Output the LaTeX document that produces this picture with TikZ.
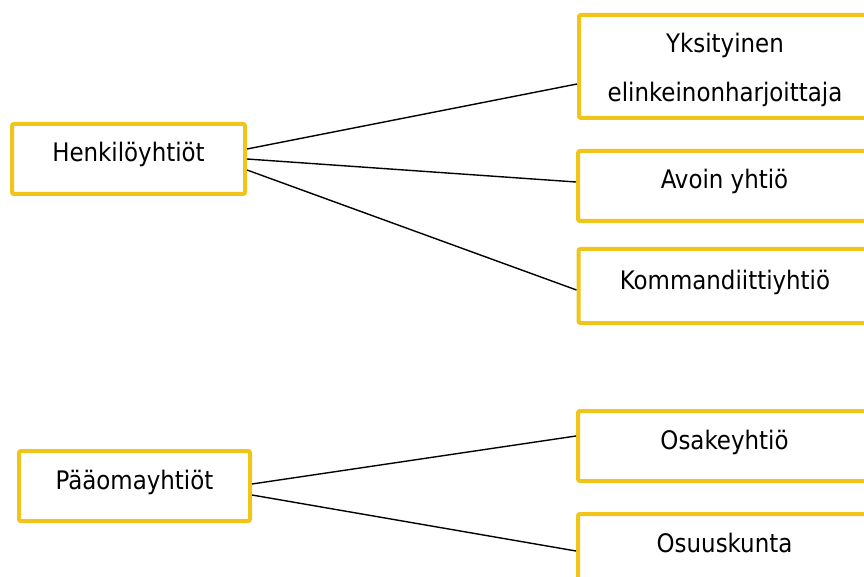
\documentclass[tikz,border=0pt]{standalone}
\usepackage{fontspec}
\setmainfont{DejaVu Sans Condensed}
\definecolor{boxyellow}{HTML}{F0C419}
\begin{document}
\begin{tikzpicture}[x=1pt,y=-1pt,
  box/.style={draw=boxyellow,line width=4pt,rounded corners=2pt,fill=white,
    inner sep=0pt,align=center,font=\fontsize{25.5}{49}\selectfont,
    text height=19pt,text depth=13pt},
  link/.style={draw=black,line width=1.4pt}]
\useasboundingbox[fill=white] (0,0) rectangle (864,577);
\node[box,minimum width=233pt,minimum height=70pt] (hen) at (128.5,159) {Henkilöyhtiöt};
\node[box,minimum width=292pt,minimum height=103pt,text height=70pt,text depth=-1pt] (yks) at (725,66.5) {Yksityinen\\elinkeinonharjoittaja};
\node[box,minimum width=293pt,minimum height=70pt] (avo) at (724.5,186) {Avoin yhtiö};
\node[box,minimum width=293pt,minimum height=74pt] (kom) at (725,286) {Kommandiittiyhtiö};
\node[box,minimum width=231pt,minimum height=70pt] (paa) at (134.5,486) {Pääomayhtiöt};
\node[box,minimum width=293pt,minimum height=70pt] (osa) at (724.5,446) {Osakeyhtiö};
\node[box,minimum width=293pt,minimum height=70pt] (osu) at (724.5,549) {Osuuskunta};
\draw[link] ([yshift=10pt]hen.east) -- ([yshift=-17.5pt]yks.west);
\draw[link] (hen.east) -- ([yshift=4pt]avo.west);
\draw[link] ([yshift=-11pt]hen.east) -- ([yshift=-4pt]kom.west);
\draw[link] ([yshift=2pt]paa.east) -- ([yshift=10pt]osa.west);
\draw[link] ([yshift=-9pt]paa.east) -- ([yshift=-2pt]osu.west);
\end{tikzpicture}
\end{document}
